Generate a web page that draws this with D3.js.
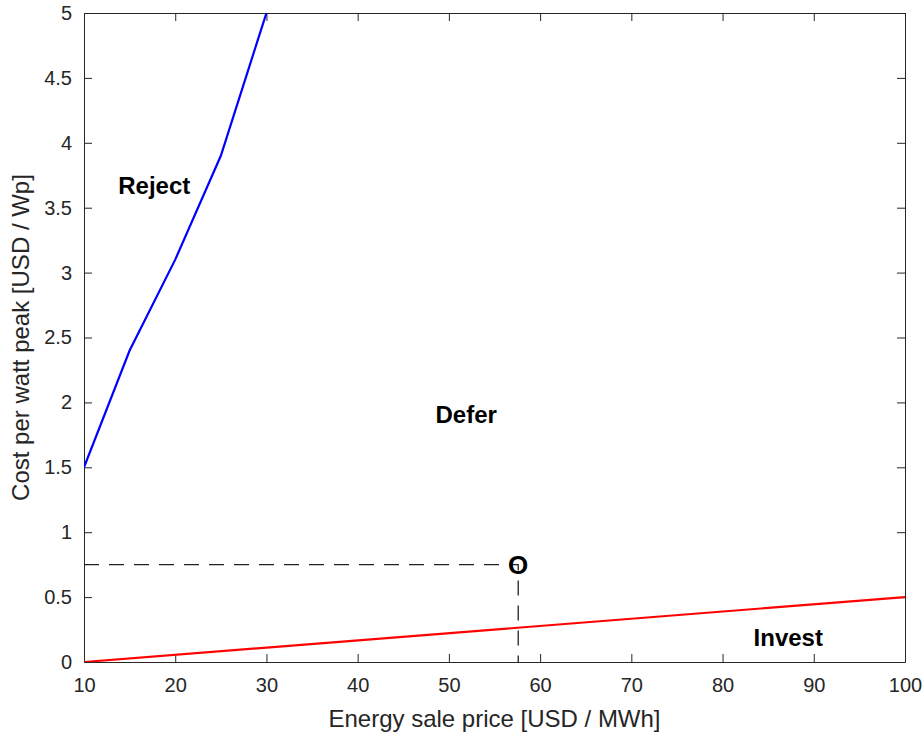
<!DOCTYPE html>
<html>
<head>
<meta charset="utf-8">
<script src="https://cdn.jsdelivr.net/npm/d3@7"></script>
<style>
  html, body { margin: 0; padding: 0; background: #fff; }
  svg text { font-family: "Liberation Sans", Arial, Helvetica, sans-serif; }
</style>
</head>
<body>
<svg id="chart" width="923" height="737"></svg>
<script>
// Decision boundaries: energy sale price [USD/MWh] vs cost per watt peak [USD/Wp]
const rejectPrice = [10, 15, 20, 25, 30];
const rejectCost  = [1.5, 2.4, 3.1, 3.9, 5.0];

const investPrice = [10, 100];
const investCost  = [0, 0.5];

// Operating point
const opPrice = [57.6];
const opCost  = [0.75];

const xTicks = [10, 20, 30, 40, 50, 60, 70, 80, 90, 100];
const yTicks = [0, 0.5, 1, 1.5, 2, 2.5, 3, 3.5, 4, 4.5, 5];

const regionNames  = ["Reject", "Defer", "Invest"];
const regionPrice  = [17.7, 51.9, 87.2];
const regionCost   = [3.67, 1.91, 0.19];

const margin = { left: 84, top: 13, right: 18, bottom: 75 };
const W = 923, H = 737;
const svg = d3.select("#chart");

const x = d3.scaleLinear().domain([10, 100]).range([margin.left, W - margin.right]);
const y = d3.scaleLinear().domain([0, 5]).range([H - margin.bottom, margin.top]);

const axisColor = "#262626";
const tickLen = 8;

svg.append("defs").append("clipPath").attr("id", "plotclip")
  .append("rect")
  .attr("x", x(10)).attr("y", y(5))
  .attr("width", x(100) - x(10)).attr("height", y(0) - y(5));

// Axes: ticks point inward on all four sides
function styleAxis(g) {
  g.selectAll("path.domain").attr("stroke", axisColor).attr("stroke-width", 1);
  g.selectAll(".tick line").attr("stroke", axisColor).attr("stroke-width", 1);
  g.selectAll(".tick text").attr("fill", axisColor).style("font-size", "20px");
}

svg.append("g").attr("transform", `translate(0,${y(0)})`)
  .call(d3.axisBottom(x).tickValues(xTicks).tickSizeInner(-tickLen).tickSizeOuter(0).tickPadding(16))
  .call(styleAxis);
svg.append("g").attr("transform", `translate(0,${y(5)})`)
  .call(d3.axisTop(x).tickValues(xTicks).tickSizeInner(-tickLen).tickSizeOuter(0).tickFormat(""))
  .call(styleAxis);
svg.append("g").attr("transform", `translate(${x(10)},0)`)
  .call(d3.axisLeft(y).tickValues(yTicks).tickSizeInner(-tickLen).tickSizeOuter(0).tickPadding(12).tickFormat(d3.format("~g")))
  .call(styleAxis);
svg.append("g").attr("transform", `translate(${x(100)},0)`)
  .call(d3.axisRight(y).tickValues(yTicks).tickSizeInner(-tickLen).tickSizeOuter(0).tickFormat(""))
  .call(styleAxis);

const line = d3.line().x(d => x(d[0])).y(d => y(d[1]));
const plot = svg.append("g").attr("clip-path", "url(#plotclip)");

// Dashed guides to the operating point
plot.append("path")
  .attr("d", line([[10, opCost[0]], [opPrice[0], opCost[0]], [opPrice[0], 0]]))
  .attr("fill", "none").attr("stroke", "#222").attr("stroke-width", 1.3)
  .attr("stroke-dasharray", "15,10");

plot.append("path")
  .attr("d", line(rejectPrice.map((p, i) => [p, rejectCost[i]])))
  .attr("fill", "none").attr("stroke", "#0000ff").attr("stroke-width", 2.2);

plot.append("path")
  .attr("d", line(investPrice.map((p, i) => [p, investCost[i]])))
  .attr("fill", "none").attr("stroke", "#ff0000").attr("stroke-width", 2.2);

svg.append("text")
  .attr("x", x(opPrice[0])).attr("y", y(opCost[0]))
  .attr("text-anchor", "middle").attr("dominant-baseline", "central")
  .style("font-size", "26px").style("font-weight", "bold").attr("fill", "#000")
  .text("O");

svg.selectAll("text.region").data(regionNames).enter().append("text")
  .attr("class", "region")
  .attr("x", (d, i) => x(regionPrice[i])).attr("y", (d, i) => y(regionCost[i]))
  .attr("text-anchor", "middle").attr("dominant-baseline", "central")
  .style("font-size", "24px").style("font-weight", "bold").attr("fill", "#000")
  .text(d => d);

svg.append("text")
  .attr("x", (x(10) + x(100)) / 2).attr("y", 727)
  .attr("text-anchor", "middle").style("font-size", "24px").attr("fill", axisColor)
  .text("Energy sale price [USD / MWh]");

svg.append("text")
  .attr("transform", `translate(29,${(y(0) + y(5)) / 2}) rotate(-90)`)
  .attr("text-anchor", "middle").style("font-size", "24px").attr("fill", axisColor)
  .text("Cost per watt peak [USD / Wp]");
</script>
</body>
</html>
